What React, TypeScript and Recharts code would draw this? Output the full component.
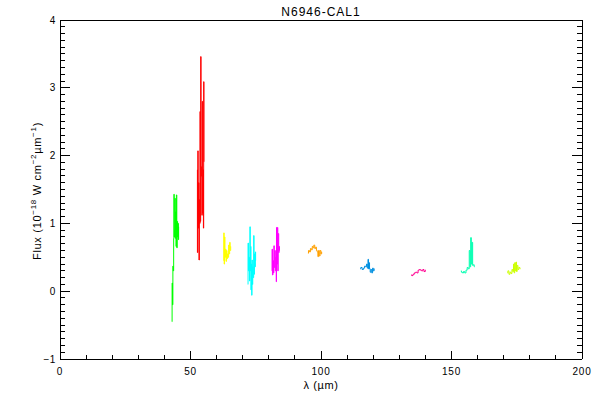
import React from "react";
import { LineChart, Line, XAxis, YAxis } from "recharts";

// ---- series data: [wavelength (µm), flux] ----
const greenSeg = [
  [42.9, -0.45], [43.0, 0.12], [43.2, -0.2], [43.3, 0.37], [43.5, 0.3], [43.6, 0.78],
  [43.7, 1.43], [43.8, 0.8], [44.0, 0.9], [44.1, 1.37], [44.2, 0.78], [44.4, 1.17],
  [44.5, 0.66], [44.7, 1.42], [44.8, 0.64], [45.0, 1.03], [45.1, 0.8], [45.3, 1.0],
  [45.4, 0.76], [45.5, 0.95],
];
const redSeg = [
  [52.6, 1.79], [52.7, 0.57], [52.9, 2.07], [53.0, 0.93], [53.2, 1.6], [53.3, 0.46],
  [53.5, 1.35], [53.6, 1.0], [53.7, 2.65], [53.8, 1.03], [54.0, 3.46], [54.1, 1.84],
  [54.3, 1.69], [54.4, 1.12], [54.6, 2.8], [54.7, 1.15], [54.9, 1.79], [55.0, 0.93],
  [55.1, 3.09], [55.2, 1.91],
];
const yellowSeg = [
  [62.7, 0.45], [62.8, 0.86], [63.0, 0.4], [63.1, 0.8], [63.3, 0.5], [63.5, 0.62],
  [63.7, 0.44], [63.9, 0.6], [64.1, 0.48], [64.3, 0.55], [64.5, 0.5], [64.7, 0.68],
  [64.9, 0.55], [65.1, 0.72], [65.3, 0.6], [65.5, 0.66],
];
const cyanSeg = [
  [72.0, 0.1], [72.1, 0.71], [72.3, 0.3], [72.5, 0.5], [72.7, 0.15], [72.8, 0.95],
  [73.0, 0.3], [73.1, 0.66], [73.2, 0.02], [73.4, 0.4], [73.5, -0.06], [73.6, 0.46],
  [73.8, 0.1], [73.9, 0.36], [74.1, 0.2], [74.3, 0.82], [74.4, 0.25], [74.6, 0.55],
  [74.8, 0.36], [74.9, 0.58], [75.0, 0.45],
];
const magentaSeg = [
  [81.2, 0.3], [81.3, 0.62], [81.5, 0.24], [81.7, 0.45], [81.9, 0.27], [82.0, 0.67],
  [82.2, 0.35], [82.4, 0.6], [82.6, 0.3], [82.8, 0.5], [82.9, 0.14], [83.0, 0.94],
  [83.2, 0.4], [83.4, 0.94], [83.5, 0.3], [83.7, 0.85], [83.9, 0.57], [84.0, 0.66],
  [84.2, 0.6],
];
const orangeSeg = [
  [95.0, 0.56], [95.4, 0.6], [95.8, 0.58], [96.1, 0.63], [96.5, 0.61], [96.8, 0.66],
  [97.1, 0.64], [97.4, 0.68], [97.8, 0.63], [98.1, 0.65], [98.4, 0.6], [98.7, 0.58],
  [98.9, 0.51], [99.2, 0.6], [99.5, 0.52], [99.8, 0.6], [100.1, 0.55], [100.4, 0.58],
];
const blueSeg = [
  [115.0, 0.33], [115.5, 0.35], [116.0, 0.32], [116.5, 0.34], [116.9, 0.37], [117.3, 0.36],
  [117.6, 0.4], [117.9, 0.34], [118.1, 0.47], [118.3, 0.33], [118.5, 0.42], [118.7, 0.33],
  [119.0, 0.28], [119.3, 0.32], [119.6, 0.27], [119.9, 0.34], [120.2, 0.3], [120.5, 0.33],
];
const pinkSeg = [
  [134.5, 0.24], [135.0, 0.23], [135.5, 0.25], [136.0, 0.27], [136.5, 0.28], [137.0, 0.27],
  [137.4, 0.31], [137.9, 0.32], [138.3, 0.31], [138.8, 0.3], [139.2, 0.32], [139.7, 0.29],
  [140.2, 0.31],
];
const springSeg = [
  [153.6, 0.3], [154.0, 0.28], [154.4, 0.27], [154.8, 0.29], [155.3, 0.27], [155.8, 0.31],
  [156.2, 0.35], [156.6, 0.33], [157.0, 0.6], [157.2, 0.36], [157.5, 0.79], [157.7, 0.4],
  [158.0, 0.72], [158.2, 0.38], [158.5, 0.39], [158.9, 0.36],
];
const limeSeg = [
  [171.4, 0.27], [171.8, 0.3], [172.2, 0.25], [172.6, 0.28], [173.0, 0.26], [173.3, 0.32],
  [173.6, 0.29], [173.9, 0.4], [174.1, 0.27], [174.3, 0.42], [174.6, 0.3], [174.8, 0.43],
  [175.0, 0.29], [175.3, 0.38], [175.6, 0.32], [176.0, 0.35], [176.4, 0.33],
];

const segments = [greenSeg, redSeg, yellowSeg, cyanSeg, magentaSeg, orangeSeg, blueSeg, pinkSeg, springSeg, limeSeg];
const segColors = ["#00ff00", "#ff0000", "#ffff00", "#00ffff", "#ff00ff", "#ffa000", "#0090e0", "#ff0090", "#00ffb0", "#ccff00"];

// ---- ticks ----
const xMajorTicks = [0, 50, 100, 150, 200];
const xAllTicks = [0, 10, 20, 30, 40, 50, 60, 70, 80, 90, 100, 110, 120, 130, 140, 150, 160, 170, 180, 190, 200];
const yMajorTicks = [-1, 0, 1, 2, 3, 4];
const yAllTicks = [
  -1, -0.9, -0.8, -0.7, -0.6, -0.5, -0.4, -0.3, -0.2, -0.1,
  0, 0.1, 0.2, 0.3, 0.4, 0.5, 0.6, 0.7, 0.8, 0.9,
  1, 1.1, 1.2, 1.3, 1.4, 1.5, 1.6, 1.7, 1.8, 1.9,
  2, 2.1, 2.2, 2.3, 2.4, 2.5, 2.6, 2.7, 2.8, 2.9,
  3, 3.1, 3.2, 3.3, 3.4, 3.5, 3.6, 3.7, 3.8, 3.9, 4,
];

const FONT = "'Liberation Sans', Arial, sans-serif";
const fmt = (v: number) => (v < 0 ? "\u2212" + Math.abs(v) : String(v));
const isMajorX = (v: number) => xMajorTicks.indexOf(v) >= 0;
const isMajorY = (v: number) => yMajorTicks.some((m) => Math.abs(m - v) < 1e-9);

const BottomTick = (p: any) => {
  const { x, y, payload } = p;
  const major = isMajorX(payload.value);
  return (
    <g>
      <line x1={x} x2={x} y1={y} y2={y - (major ? 8 : 4)} stroke="#000" shapeRendering="crispEdges" />
      {major && (
        <text x={x} y={y + 16} textAnchor="middle" fontSize={10} letterSpacing={0.8} fontFamily={FONT} fill="#000">
          {fmt(payload.value)}
        </text>
      )}
    </g>
  );
};
const TopTick = (p: any) => {
  const { x, y, payload } = p;
  const major = isMajorX(payload.value);
  return <line x1={x} x2={x} y1={y} y2={y + (major ? 8 : 4)} stroke="#000" shapeRendering="crispEdges" />;
};
const LeftTick = (p: any) => {
  const { x, y, payload } = p;
  const major = isMajorY(payload.value);
  return (
    <g>
      <line x1={x} x2={x + (major ? 10 : 5)} y1={y} y2={y} stroke="#000" shapeRendering="crispEdges" />
      {major && (
        <text x={x - 4} y={y + 3.5} textAnchor="end" fontSize={10} letterSpacing={0.6} fontFamily={FONT} fill="#000">
          {fmt(payload.value)}
        </text>
      )}
    </g>
  );
};
const RightTick = (p: any) => {
  const { x, y, payload } = p;
  const major = isMajorY(payload.value);
  return <line x1={x} x2={x - (major ? 10 : 5)} y1={y} y2={y} stroke="#000" shapeRendering="crispEdges" />;
};

const axisLineStyle = { stroke: "#000", strokeWidth: 1, shapeRendering: "crispEdges" } as any;

export default function App() {
  const seriesData = segments.map((seg) => seg.map(([x, y]) => ({ x, y })));
  return (
    <div style={{ position: "fixed", left: 0, top: 0, width: 600, height: 400, background: "#fff" }}>
      <LineChart width={600} height={400} margin={{ top: 0, right: 0, bottom: 0, left: 0 }}>
        <XAxis
          xAxisId="bottom"
          dataKey="x"
          type="number"
          domain={[0, 200]}
          ticks={xAllTicks}
          interval={0}
          allowDataOverflow
          orientation="bottom"
          height={41}
          tickSize={0}
          tickMargin={0}
          tickLine={false}
          axisLine={axisLineStyle}
          tick={<BottomTick />}
        />
        <XAxis
          xAxisId="top"
          type="number"
          domain={[0, 200]}
          ticks={xAllTicks}
          interval={0}
          allowDataOverflow
          orientation="top"
          height={20}
          tickSize={0}
          tickMargin={0}
          tickLine={false}
          axisLine={axisLineStyle}
          tick={<TopTick />}
        />
        <YAxis
          yAxisId="left"
          type="number"
          domain={[-1, 4]}
          ticks={yAllTicks}
          interval={0}
          allowDataOverflow
          orientation="left"
          width={60}
          tickSize={0}
          tickMargin={0}
          tickLine={false}
          axisLine={axisLineStyle}
          tick={<LeftTick />}
        />
        <YAxis
          yAxisId="right"
          type="number"
          domain={[-1, 4]}
          ticks={yAllTicks}
          interval={0}
          allowDataOverflow
          orientation="right"
          width={18}
          tickSize={0}
          tickMargin={0}
          tickLine={false}
          axisLine={axisLineStyle}
          tick={<RightTick />}
        />
        {seriesData.map((d, i) => (
          <Line
            key={i}
            data={d}
            xAxisId="bottom"
            yAxisId="left"
            dataKey="y"
            type="step"
            stroke={segColors[i]}
            strokeWidth={1}
            dot={false}
            activeDot={false}
            isAnimationActive={false}
          />
        ))}
      </LineChart>
      <svg width={600} height={400} style={{ position: "absolute", left: 0, top: 0, pointerEvents: "none" }}>
        <text x={321} y={16} textAnchor="middle" fontSize={12} letterSpacing={1} fontFamily={FONT} fill="#000">
          N6946-CAL1
        </text>
        <text x={321} y={389} textAnchor="middle" fontSize={11} letterSpacing={0.6} fontFamily={FONT} fill="#000">
          λ (µm)
        </text>
        <text
          transform="translate(41,191) rotate(-90)"
          textAnchor="middle"
          fontSize={11}
          letterSpacing={0.7}
          fontFamily={FONT}
          fill="#000"
        >
          Flux (10
          <tspan dy={-5} fontSize={8}>−18</tspan>
          <tspan dy={5}> W cm</tspan>
          <tspan dy={-5} fontSize={8}>−2</tspan>
          <tspan dy={5}>µm</tspan>
          <tspan dy={-5} fontSize={8}>−1</tspan>
          <tspan dy={5}>)</tspan>
        </text>
      </svg>
    </div>
  );
}
